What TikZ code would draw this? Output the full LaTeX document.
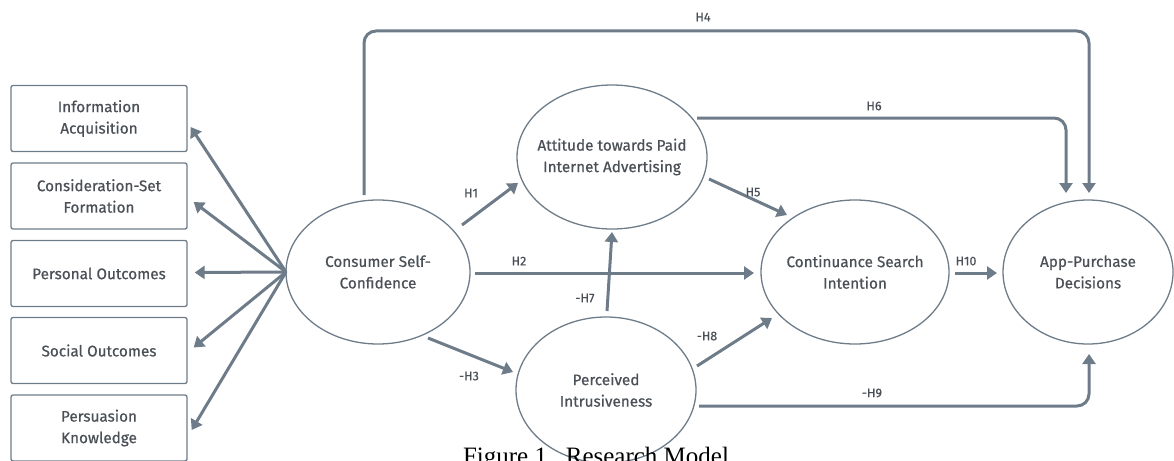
\documentclass[tikz,border=0pt]{standalone}
\usepackage{fontspec}
\setmainfont{Fira Sans}
\newfontfamily\nf{Fira Sans}[FakeBold=0.6]
\newfontfamily\capfont{Liberation Serif}
\usetikzlibrary{shapes.geometric,arrows.meta,calc}
\definecolor{lc}{HTML}{6E7C89}
\definecolor{tc}{HTML}{4A5056}
\begin{document}
\begin{tikzpicture}[x=1pt,y=-1pt,
  ell/.style={ellipse,draw=lc,line width=1.3pt,inner xsep=-25pt,inner ysep=-5pt,align=center,text=tc,font=\nf\fontsize{15.3}{21.5}\selectfont},
  box/.style={draw=lc,line width=1.3pt,rounded corners=2pt,minimum width=176pt,minimum height=66pt,align=center,text=tc,font=\nf\fontsize{15.3}{21.5}\selectfont},
  conn/.style={draw=lc,line width=3pt,-{Triangle[length=10pt,width=13pt]}},
  lab/.style={text=tc,font=\nf\fontsize{12.5}{13}\selectfont,inner sep=0pt}]
\useasboundingbox (0,0) rectangle (1174,460);
% boxes
\node[box] (b1) at (99,118.5) {Information\\Acquisition};
\node[box] (b2) at (99,196) {Consideration-Set\\Formation};
\node[box] (b3) at (99,273.5) {Personal Outcomes};
\node[box] (b4) at (99,350.5) {Social Outcomes};
\node[box] (b5) at (99,428) {Persuasion\\Knowledge};
% ellipses
\node[ell,minimum width=184pt,minimum height=144pt] (csc) at (378,272) {Consumer Self-\\Confidence};
\node[ell,minimum width=190pt,minimum height=144pt] (att) at (612,157) {Attitude towards Paid\\Internet Advertising};
\node[ell,minimum width=180pt,minimum height=146pt] (pi) at (606,390) {Perceived\\Intrusiveness};
\node[ell,minimum width=188pt,minimum height=144pt] (csi) at (855,272) {Continuance Search\\Intention};
\node[ell,minimum width=170pt,minimum height=144pt] (apd) at (1088,272) {App-Purchase\\Decisions};
% fan
\coordinate (fan) at ($(csc.center)+(-92,0)$);
\draw[conn] (fan) -- ($(b1.east)+(3,8.5)$);
\draw[conn] (fan) -- ($(b2.east)+(6,6)$);
\draw[conn] (fan) -- ($(b3.east)+(7,-1)$);
\draw[conn] (fan) -- ($(b4.east)+(6,-3)$);
\draw[conn] (fan) -- ($(b5.east)+(4,2)$);
% hypotheses
\draw[conn] ($(csc.center)+(84,-47)$) -- ($(att.center)+(-94,26)$);
\draw[conn] ($(csc.center)+(97,1)$) -- ($(csi.center)+(-101,1)$);
\draw[conn] ($(pi.center)+(1,-79)$) -- ($(att.center)+(0,75)$);
\draw[conn] ($(csc.center)+(50,66)$) -- ($(pi.center)+(-93,-18)$);
\draw[conn] ($(pi.center)+(91,-24)$) -- ($(csi.center)+(-83,46)$);
\draw[conn] ($(csi.center)+(100,1)$) -- ($(apd.center)+(-91,1)$);
\draw[conn] ($(att.center)+(97,22)$) -- ($(csi.center)+(-68,-57)$);
\draw[conn,rounded corners=12pt] ($(att.center)+(85,-39)$) -| ($(apd.center)+(-22,-79)$);
\coordinate (h4s) at ($(csc.center)+(-14,-77)$);
\coordinate (h4e) at ($(apd.center)+(1,-79)$);
\coordinate (top) at (0,31);
\draw[conn,rounded corners=12pt] (h4s) |- (h4e |- top) -- (h4e);
\draw[conn,rounded corners=12pt] ($(pi.center)+(93,16)$) -| ($(apd.center)+(1,82)$);
% labels
\node[lab] at (703,17) {H4};
\node[lab] at (874,106) {H6};
\node[lab] at (753,192) {H5};
\node[lab] at (471,193) {H1};
\node[lab] at (519,261) {H2};
\node[lab] at (585,298) {-H7};
\node[lab] at (469,376) {-H3};
\node[lab] at (707,336) {-H8};
\node[lab] at (872,393) {-H9};
\node[lab] at (966,261) {H10};
% caption
\node[anchor=base,inner sep=0pt,font=\capfont\fontsize{25}{25}\selectfont] (cap) at (596,464) {Figure 1.\ \ Research Model};
\end{tikzpicture}
\end{document}
